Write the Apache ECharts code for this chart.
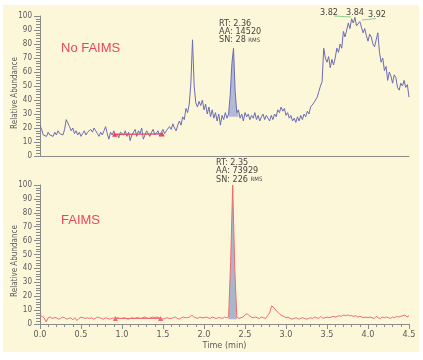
<!DOCTYPE html>
<html>
<head>
<meta charset="utf-8">
<script src="https://cdn.jsdelivr.net/npm/echarts@6/dist/echarts.min.js"></script>
<style>
  html, body { margin: 0; padding: 0; background: #fff; }
  #chart { width: 423px; height: 360px; }
</style>
</head>
<body>
<div id="chart"></div>
<script>
// No FAIMS trace, one value per scan, scans every 0.02 min from 0.0
const topStep = 0.02;
const topValues = [
  22, 19, 15, 16, 14, 17, 15, 16, 14, 17,
  15, 18, 16, 17, 15, 19, 26, 25, 21, 18,
  20, 16, 18, 15, 17, 14, 16, 18, 15, 17,
  16, 19, 17, 20, 18, 16, 14, 17, 15, 18,
  21, 16, 12, 17, 15, 18, 14, 16, 13, 17,
  16, 15, 18, 14, 17, 11, 15, 16, 19, 14,
  18, 16, 20, 12, 15, 18, 16, 14, 17, 19,
  15, 16, 18, 14, 17, 19, 16, 18, 17, 21,
  19, 23, 20, 18, 22, 25, 22, 28, 26, 34,
  31, 37, 52, 83, 50, 38, 35, 39, 36, 40,
  33, 37, 30, 35, 28, 33, 27, 31, 25, 30,
  22, 29, 26, 31, 27, 30, 44, 66, 77, 46,
  31, 33, 27, 30, 25, 31, 28, 30, 26, 29,
  27, 31, 26, 29, 25, 28, 30, 26, 29, 27,
  25, 29, 26, 30, 28, 33, 31, 35, 32, 34,
  29, 31, 27, 29, 25, 27, 24, 28, 25, 29,
  26, 30, 28, 32, 30, 35, 34, 38, 37, 42,
  46, 50, 53, 77, 70, 67, 71, 63, 69, 65,
  70, 77, 74, 80, 77, 89, 85, 90, 95, 91,
  98, 95, 99, 93, 92, 96, 97, 88, 91, 86,
  82, 87, 85, 80, 78, 83, 88, 74, 67, 70,
  61, 64, 54, 60, 57, 52, 58, 56, 49, 47,
  52, 50, 54, 49, 51, 42
];

// FAIMS trace, scans every 0.025 min from 0.0
const bottomStep = 0.025;
const bottomValues = [
  6, 5.5, 4.5, 1.5, 4.5, 5, 4, 4.5,
  4.5, 3.5, 4, 5, 4.5, 3.5, 4, 4.5,
  3, 4.5, 2.5, 4, 5, 4.5, 4, 4.5,
  4, 4.5, 3.5, 4, 5, 4.5, 4, 3.5,
  4.5, 4, 3.5, 4, 4.5, 4, 4.5, 4,
  4, 4.5, 4, 3.5, 4, 4.5, 4, 4.5,
  4.5, 4, 4.5, 5, 4.5, 4, 4.5, 5,
  4.5, 5, 4.5, 4, 3.5, 4, 4.5, 4,
  4, 4.5, 5, 4, 3.5, 4.5, 5, 4.5,
  4.5, 5, 6.5, 5, 4.5, 4, 5, 4.5,
  4.5, 5, 4.5, 4, 5, 4.5, 4, 4.5,
  4.5, 4, 5, 4.5, 5, 45, 100, 40,
  5, 4, 4.5, 5, 6.5, 7.5, 6, 5,
  4.5, 5, 4.5, 4, 5, 4.5, 4, 6,
  8, 13, 12, 10, 8.5, 7, 6, 5.5,
  4.5, 5, 4, 3.5, 4, 4.5, 3.5, 4,
  4.5, 4, 3.5, 4, 4.5, 4, 5, 4.5,
  4, 5.5, 4, 4.5, 5, 4.5, 5, 5.5,
  5, 5.5, 6, 5.5, 6.5, 6, 6.5, 6,
  6, 5.5, 6, 5, 5.5, 5, 4.5, 5,
  4.5, 5, 4.5, 4, 5.5, 4.5, 4, 5,
  4.5, 5, 4.5, 4, 5, 4.5, 5.5, 5,
  5.5, 6, 6.5, 5, 6
];

// integrated peak windows (min) and their baselines
const topPeakRange = [2.30, 2.42];
const topPeakBase = 28;
const bottomPeakRange = [2.30, 2.40];
const bottomPeakBase = 3.5;

// baseline markers
const topBaseTimes = [0.91, 1.49];
const topBaseValues = [15.5, 15.8];
const bottomBaseTimes = [0.92, 1.47];
const bottomBaseValues = [4, 4];

const yTicks = [0, 10, 20, 30, 40, 50, 60, 70, 80, 90, 100];
const xTicks = [0.0, 0.5, 1.0, 1.5, 2.0, 2.5, 3.0, 3.5, 4.0, 4.5];

const topData = topValues.map((v, i) => [+(i * topStep).toFixed(3), v]);
const bottomData = bottomValues.map((v, i) => [+(i * bottomStep).toFixed(3), v]);
const inRange = (d, r) => d.filter(p => p[0] >= r[0] - 1e-6 && p[0] <= r[1] + 1e-6);

const narrow = "'Liberation Sans Narrow', 'DejaVu Sans Condensed', sans-serif";
const axisGray = '#8a8a8a';
const labelGray = '#5a5a5a';
const topColor = '#6b6db3';
const bottomColor = '#ef6a70';
const red = '#e8475b';

function yAxisCfg(grid) {
  return {
    gridIndex: grid, type: 'value', min: yTicks[0], max: yTicks[yTicks.length - 1], interval: 10,
    axisLine: { show: true, lineStyle: { color: axisGray } },
    axisTick: { show: true, length: 6, lineStyle: { color: axisGray } },
    minorTick: { show: true, splitNumber: 5, length: 4, lineStyle: { color: axisGray } },
    axisLabel: { fontSize: 8, color: labelGray, margin: 8, fontFamily: narrow },
    splitLine: { show: false }
  };
}

const chart = echarts.init(document.getElementById('chart'));
chart.setOption({
  animation: false,
  backgroundColor: '#ffffff',
  grid: [
    { left: 40, top: 16, width: 369, height: 140 },
    { left: 40, top: 185, width: 369, height: 139 }
  ],
  xAxis: [
    {
      gridIndex: 0, type: 'value', min: 0, max: 4.5,
      axisLine: { lineStyle: { color: axisGray } },
      axisTick: { show: false }, axisLabel: { show: false }, splitLine: { show: false }
    },
    {
      gridIndex: 1, type: 'value', min: xTicks[0], max: xTicks[xTicks.length - 1], interval: 0.5,
      axisLine: { lineStyle: { color: axisGray } },
      axisTick: { length: 5, lineStyle: { color: axisGray } },
      minorTick: { show: true, splitNumber: 5, length: 3, lineStyle: { color: axisGray } },
      axisLabel: { fontSize: 9, color: labelGray, margin: 6, fontFamily: narrow, formatter: v => v.toFixed(1) },
      splitLine: { show: false },
      name: 'Time (min)', nameLocation: 'middle', nameGap: 17,
      nameTextStyle: { fontSize: 9, color: labelGray, fontFamily: narrow }
    }
  ],
  yAxis: [yAxisCfg(0), yAxisCfg(1)],
  series: [
    {
      type: 'line', xAxisIndex: 0, yAxisIndex: 0, data: inRange(topData, topPeakRange),
      showSymbol: false, lineStyle: { width: 0 },
      areaStyle: { color: '#b3b9d6', opacity: 1, origin: topPeakBase }, z: 1
    },
    {
      type: 'line', xAxisIndex: 0, yAxisIndex: 0, data: topData,
      showSymbol: false, lineStyle: { color: topColor, width: 1 }, z: 2
    },
    {
      type: 'line', xAxisIndex: 0, yAxisIndex: 0,
      data: topBaseTimes.map((t, i) => [t, topBaseValues[i]]),
      symbol: 'triangle', symbolSize: 5, itemStyle: { color: red }, lineStyle: { color: red, width: 1.2 }, z: 3
    },
    {
      type: 'line', xAxisIndex: 1, yAxisIndex: 1, data: inRange(bottomData, bottomPeakRange),
      showSymbol: false, lineStyle: { width: 0 },
      areaStyle: { color: '#aab6c9', opacity: 1, origin: bottomPeakBase }, z: 1
    },
    {
      type: 'line', xAxisIndex: 1, yAxisIndex: 1, data: bottomData,
      showSymbol: false, lineStyle: { color: bottomColor, width: 1 }, z: 2
    },
    {
      type: 'line', xAxisIndex: 1, yAxisIndex: 1,
      data: bottomBaseTimes.map((t, i) => [t, bottomBaseValues[i]]),
      symbol: 'triangle', symbolSize: 5, itemStyle: { color: bottomColor }, lineStyle: { color: bottomColor, width: 1 }, z: 3
    }
  ],
  graphic: [
    { type: 'rect', z: -10, silent: true, shape: { x: 3, y: 5, width: 416, height: 347 }, style: { fill: '#fdf7da' } },
    { type: 'text', x: 61, y: 48, style: { text: 'No FAIMS', fontSize: 13, fill: red, fontFamily: 'Liberation Sans, sans-serif', verticalAlign: 'middle' } },
    { type: 'text', x: 61, y: 220, style: { text: 'FAIMS', fontSize: 13, fill: red, fontFamily: 'Liberation Sans, sans-serif', verticalAlign: 'middle' } },
    { type: 'text', x: 15, y: 93, rotation: Math.PI / 2, style: { text: 'Relative Abundance', fontSize: 8, fill: labelGray, fontFamily: narrow, align: 'center', verticalAlign: 'middle' } },
    { type: 'text', x: 15, y: 261, rotation: Math.PI / 2, style: { text: 'Relative Abundance', fontSize: 8, fill: labelGray, fontFamily: narrow, align: 'center', verticalAlign: 'middle' } },
    {
      type: 'text', x: 219, y: 20,
      style: {
        text: 'RT: 2.36\nAA: 14520\nSN: 28 {s|RMS}', fontSize: 9, lineHeight: 8, fill: '#444', fontFamily: narrow,
        rich: { s: { fontSize: 6, fill: '#444', fontFamily: narrow } }
      }
    },
    {
      type: 'text', x: 216, y: 158,
      style: {
        text: 'RT: 2.35\nAA: 73929\nSN: 226 {s|RMS}', fontSize: 9, lineHeight: 8.5, fill: '#444', fontFamily: narrow,
        rich: { s: { fontSize: 6, fill: '#444', fontFamily: narrow } }
      }
    },
    { type: 'text', x: 329, y: 13, style: { text: '3.82', fontSize: 9, fill: '#444', fontFamily: narrow, align: 'center', verticalAlign: 'middle' } },
    { type: 'text', x: 355, y: 13, style: { text: '3.84', fontSize: 9, fill: '#444', fontFamily: narrow, align: 'center', verticalAlign: 'middle' } },
    { type: 'text', x: 377, y: 15, style: { text: '3.92', fontSize: 9, fill: '#444', fontFamily: narrow, align: 'center', verticalAlign: 'middle' } },
    { type: 'line', shape: { x1: 334, y1: 16, x2: 351, y2: 17 }, style: { stroke: '#8fd08f', lineWidth: 1 } },
    { type: 'line', shape: { x1: 362, y1: 20, x2: 376, y2: 18.5 }, style: { stroke: '#8fd08f', lineWidth: 1 } }
  ]
});
</script>
</body>
</html>
